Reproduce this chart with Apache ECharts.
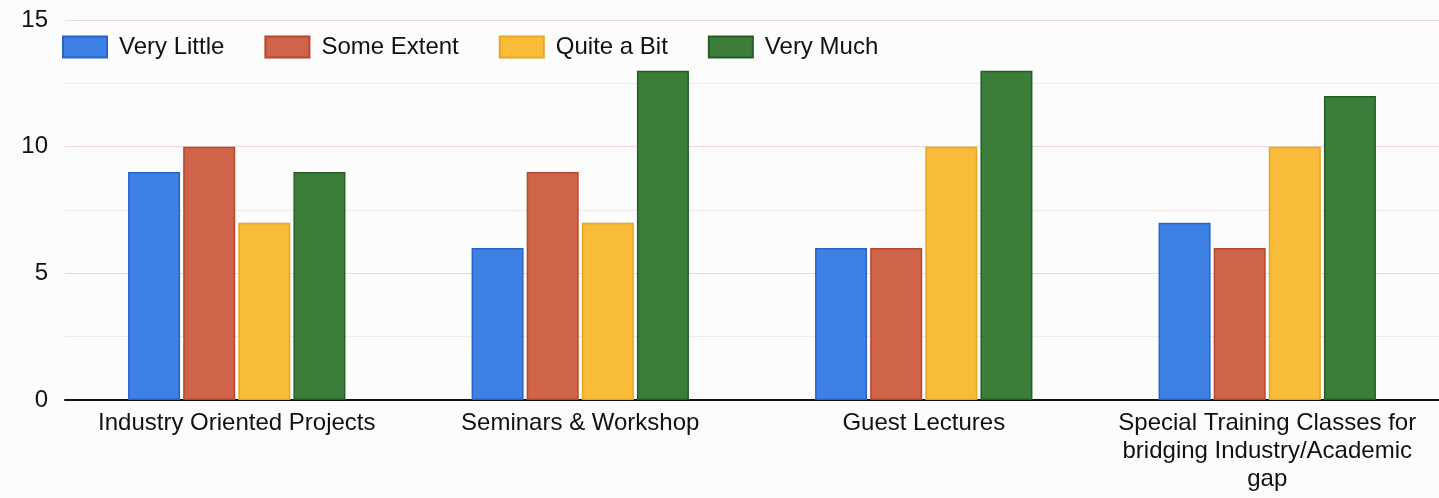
<!DOCTYPE html>
<html>
<head>
<meta charset="utf-8">
<script src="https://cdn.jsdelivr.net/npm/echarts@6/dist/echarts.min.js"></script>
<style>
html,body{margin:0;padding:0;background:#fcfcfc;}
#c{width:1439px;height:498px;}
</style>
</head>
<body>
<div id="c"></div>
<script>
var categories = ["Industry Oriented Projects", "Seminars & Workshop", "Guest Lectures", "Special Training Classes for\nbridging Industry/Academic\ngap"];
var seriesNames = ["Very Little", "Some Extent", "Quite a Bit", "Very Much"];
var veryLittle = [9, 6, 6, 7];
var someExtent = [10, 9, 6, 6];
var quiteABit = [7, 7, 10, 10];
var veryMuch = [9, 13, 13, 12];
var yTicks = [0, 5, 10, 15];

var colors = ["#3d80e6", "#d0644a", "#f8bc38", "#3c7d3a"];
var borders = ["#2a62c8", "#b8452e", "#e8a520", "#235e25"];
var values = [veryLittle, someExtent, quiteABit, veryMuch];

var chart = echarts.init(document.getElementById('c'));
chart.setOption({
  backgroundColor: '#fcfcfc',
  textStyle: {fontFamily: 'Liberation Sans, Arial, sans-serif'},
  legend: {
    left: 57, top: 30,
    icon: 'rect',
    itemWidth: 44, itemHeight: 21, itemGap: 40,
    textStyle: {fontSize: 24, color: '#111', padding: [0, 0, 0, 7]},
    data: seriesNames
  },
  grid: {left: 65, right: 0, top: 20, bottom: 98, containLabel: false},
  xAxis: {
    type: 'category',
    data: categories,
    axisLine: {lineStyle: {color: '#111', width: 2}},
    axisTick: {show: false},
    axisLabel: {fontSize: 24, color: '#111', lineHeight: 28, margin: 9, interval: 0}
  },
  yAxis: {
    type: 'value',
    min: yTicks[0], max: yTicks[yTicks.length - 1], interval: 5,
    axisLine: {show: false},
    axisTick: {show: false},
    axisLabel: {fontSize: 24, color: '#111', margin: 17},
    splitLine: {lineStyle: {color: '#ead8da', width: 1}},
    minorTick: {show: false, splitNumber: 2},
    minorSplitLine: {show: true, lineStyle: {color: '#f1eaea', width: 1}}
  },
  series: seriesNames.map(function (n, i) {
    return {
      name: n, type: 'bar', data: values[i],
      barWidth: 52, barGap: '6%',
      itemStyle: {color: colors[i], borderColor: borders[i], borderWidth: 1.5}
    };
  })
});
</script>
</body>
</html>
